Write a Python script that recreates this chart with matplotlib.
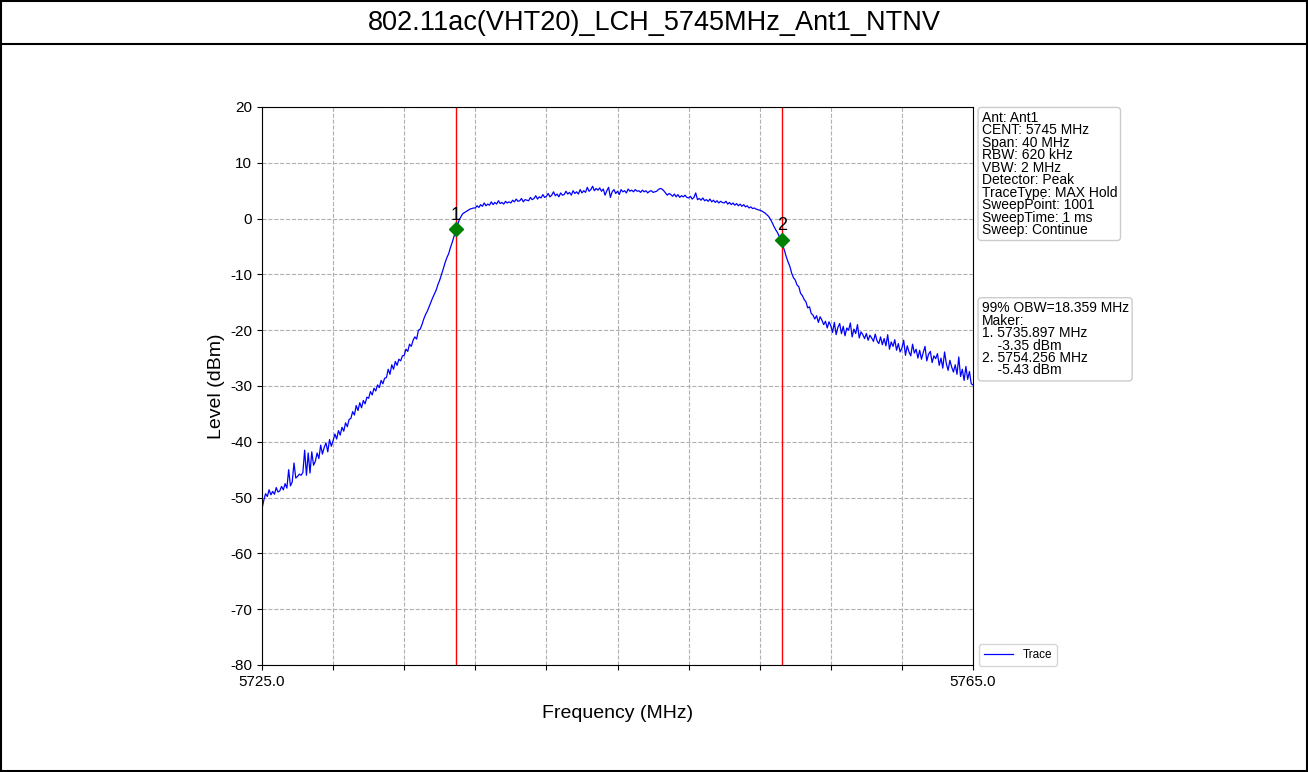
import numpy as np
import matplotlib
matplotlib.use("Agg")
import matplotlib.pyplot as plt
from matplotlib.patches import Rectangle

plt.rcParams["font.family"] = ["Liberation Sans", "DejaVu Sans"]
plt.rcParams["axes.unicode_minus"] = False

TITLE = "802.11ac(VHT20)_LCH_5745MHz_Ant1_NTNV"
F_START, F_STOP = 5725.0, 5765.0
# trace, 0.1 MHz steps (one row = 1 MHz)
level_dbm = [
    -52.0, -50.5, -49.3, -49.8, -48.6, -49.5, -48.9, -49.4, -48.2, -49.0,
    -48.8, -48.0, -48.6, -47.5, -48.3, -45.0, -47.9, -47.2, -43.8, -46.5,
    -46.2, -45.8, -46.0, -45.5, -41.5, -46.0, -42.0, -45.6, -41.8, -44.2,
    -43.5, -42.0, -43.0, -40.6, -42.2, -41.0, -40.2, -41.8, -39.6, -40.8,
    -39.8, -38.6, -39.5, -38.0, -38.8, -37.4, -38.1, -36.6, -37.3, -36.0,
    -35.8, -34.6, -35.2, -33.5, -34.4, -33.0, -33.9, -32.6, -33.2, -32.0,
    -32.2, -31.0, -31.6, -30.4, -30.9, -29.8, -30.3, -29.0, -29.6, -28.6,
    -28.5, -27.0, -27.9, -26.2, -27.0, -25.6, -26.3, -25.2, -25.5, -24.6,
    -24.5, -23.4, -23.8, -22.5, -22.9, -21.8, -21.2, -21.6, -20.0, -19.8,
    -19.0, -18.0, -17.2, -16.6, -15.8, -15.0, -14.2, -13.5, -12.8, -11.8,
    -11.0, -10.0, -9.0, -7.9, -7.0, -6.3, -5.2, -4.3, -3.2, -2.2,
    -1.2, -0.2, 0.4, 0.9, 1.1, 1.3, 1.5, 1.7, 1.8, 1.9,
    1.9, 2.3, 2.0, 2.5, 2.2, 2.8, 2.3, 2.6, 2.4, 3.0,
    2.5, 2.9, 2.6, 3.2, 2.7, 2.9, 2.6, 3.1, 2.8, 3.0,
    2.8, 3.3, 3.0, 3.5, 3.1, 3.2, 3.6, 3.0, 3.4, 3.3,
    3.2, 3.8, 3.4, 3.6, 4.1, 3.5, 3.9, 3.7, 4.3, 3.8,
    4.0, 4.5, 3.9, 4.2, 4.8, 4.1, 4.4, 3.9, 4.6, 4.2,
    4.3, 4.9, 4.4, 4.7, 4.2, 5.0, 4.5, 4.8, 4.4, 5.2,
    4.6, 5.0, 4.7, 5.6, 4.9, 5.2, 5.8, 5.0, 5.4, 5.1,
    5.5, 4.9, 5.3, 4.2, 5.0, 5.6, 3.8, 4.8, 5.2, 4.5,
    4.9, 4.3, 5.2, 4.8, 5.0, 4.6, 5.3, 4.9, 5.1, 4.8,
    5.2, 4.9, 5.0, 4.7, 5.1, 4.8, 5.0, 4.6, 4.9, 5.0,
    4.7, 4.8, 4.9, 5.2, 5.4, 5.3, 5.0, 4.6, 4.2, 4.5,
    4.3, 4.0, 4.4, 3.9, 4.3, 3.8, 4.1, 3.9, 4.2, 3.8,
    3.7, 4.0, 3.5, 3.8, 4.6, 3.4, 3.6, 3.3, 3.7, 3.2,
    3.4, 3.1, 3.5, 3.0, 3.3, 2.9, 3.2, 2.8, 3.1, 2.9,
    2.8, 3.1, 2.6, 2.9, 2.5, 2.8, 2.4, 2.7, 2.3, 2.6,
    2.2, 2.5, 2.1, 2.3, 1.9, 2.1, 1.8, 1.9, 1.7, 1.6,
    1.5, 1.4, 1.2, 1.0, 0.7, 0.4, -0.1, -0.7, -1.4, -2.0,
    -2.5, -3.2, -3.8, -4.8, -5.8, -6.9, -7.8, -8.6, -9.8, -10.6,
    -11.0, -11.9, -12.2, -13.4, -13.8, -14.5, -14.9, -16.0, -15.8, -17.0,
    -17.3, -18.0, -17.4, -18.6, -17.6, -18.2, -19.0, -18.4, -19.6, -18.5,
    -19.2, -20.4, -18.6, -20.8, -19.5, -18.8, -20.6, -19.3, -21.0, -19.6,
    -20.0, -18.7, -21.2, -19.8, -20.6, -19.0, -21.4, -20.3, -20.8, -21.5,
    -20.6, -21.8, -20.9, -21.4, -22.0, -20.7, -21.9, -22.4, -21.2, -22.6,
    -21.5, -22.8, -20.8, -23.4, -22.1, -22.9, -21.7, -23.6, -22.4, -23.9,
    -23.2, -21.8, -24.5, -22.8, -23.9, -24.6, -22.5, -24.1, -23.4, -25.0,
    -23.6, -25.2, -24.0, -22.9, -25.5, -24.3, -23.8, -25.8, -24.6, -25.1,
    -24.2, -26.3, -25.0, -26.8, -23.9, -26.0, -27.2, -25.4, -26.6, -27.5,
    -26.2, -27.9, -24.8, -28.3, -27.0, -29.0, -26.5, -28.8, -27.4, -29.6,
    -29.8,
]
freq_mhz = np.linspace(F_START, F_STOP, len(level_dbm))

marker_freq = [5735.897, 5754.256]
marker_level = [-1.9, -3.8]   # where the diamonds sit in the picture
marker_names = ["1", "2"]

info_text = ("Ant: Ant1\nCENT: 5745 MHz\nSpan: 40 MHz\nRBW: 620 kHz\nVBW: 2 MHz\n"
             "Detector: Peak\nTraceType: MAX Hold\nSweepPoint: 1001\n"
             "SweepTime: 1 ms\nSweep: Continue")
obw_text = ("99% OBW=18.359 MHz\nMaker:\n1. 5735.897 MHz\n    -3.35 dBm\n"
            "2. 5754.256 MHz\n    -5.43 dBm")

fig = plt.figure(figsize=(13.08, 7.72), dpi=100)
fig.patch.set_facecolor("white")

# frame + title strip
fig.add_artist(Rectangle((0.0005, 0.001), 0.999, 0.998, transform=fig.transFigure,
                         fill=False, edgecolor="black", lw=1.5))
fig.add_artist(plt.Line2D([0, 1], [1 - 44 / 772] * 2, transform=fig.transFigure,
                          color="black", lw=1.5))
fig.text(0.5, 1 - 23 / 772, TITLE, ha="center", va="center", fontsize=19.5)

ax = fig.add_axes([262 / 1308, 107 / 772, 711 / 1308, 558 / 772])
ax.plot(freq_mhz, level_dbm, color="blue", lw=0.9, label="Trace")
for f in marker_freq:
    ax.axvline(f, color="red", lw=1)
ax.plot(marker_freq, marker_level, "D", color="green", ms=7, zorder=5)
for f, lv, nm in zip(marker_freq, marker_level, marker_names):
    ax.text(f, lv + 1.0, nm, ha="center", va="bottom", fontsize=13)

ax.set_xlim(F_START, F_STOP)
ax.set_ylim(-80, 20)
xt = np.linspace(F_START, F_STOP, 11)
ax.set_xticks(xt)
ax.set_xticklabels([f"{v:.1f}" if i in (0, 10) else "" for i, v in enumerate(xt)])
ax.set_yticks(np.arange(-80, 21, 10))
ax.tick_params(labelsize=11)
ax.grid(True, ls="--", color="#b0b0b0", lw=0.8)
ax.set_xlabel("Frequency (MHz)", fontsize=14, labelpad=12)
ax.set_ylabel("Level (dBm)", fontsize=14)

box = dict(boxstyle="round,pad=0.25", fc="white", ec="#cccccc", lw=1)
ax.text(1.012, 0.993, info_text, transform=ax.transAxes, va="top", ha="left",
        fontsize=10, linespacing=0.86, bbox=box)
ax.text(1.012, 0.652, obw_text, transform=ax.transAxes, va="top", ha="left",
        fontsize=10, linespacing=0.86, bbox=box)
ax.legend(loc="lower left", bbox_to_anchor=(1.0, -0.012), fontsize=8.5,
          frameon=True, handlelength=2.5)

fig.savefig("out.png", dpi=100)
